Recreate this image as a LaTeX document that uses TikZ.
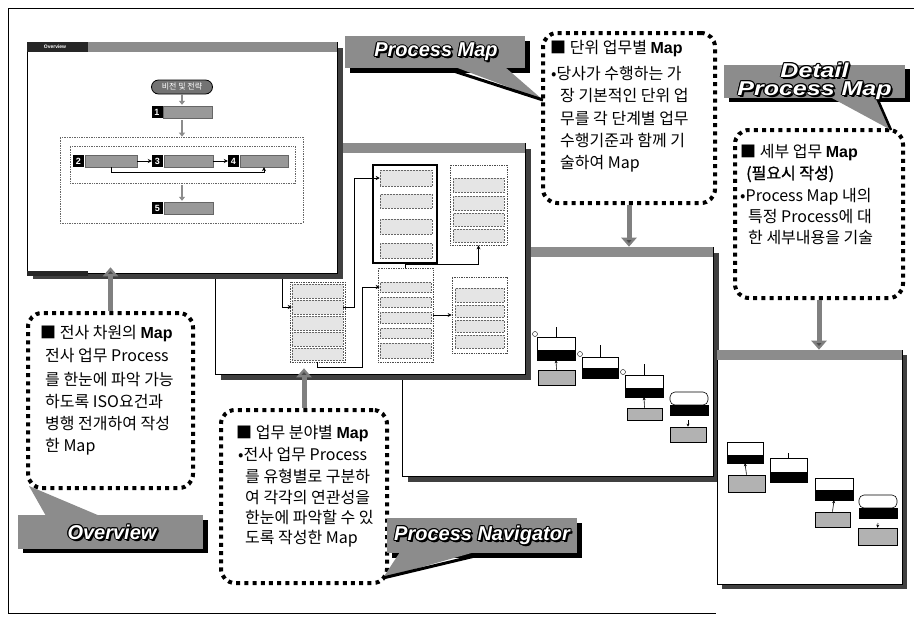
\documentclass[tikz,border=0pt]{standalone}
\usepackage{fontspec}
\setmainfont{Liberation Sans}
\newfontfamily\kr{Noto Sans CJK KR}
\newfontfamily\krb[FakeBold=1.2]{Noto Sans CJK KR}
\usetikzlibrary{arrows.meta}
\colorlet{lgray}{black!45}
\colorlet{dgray}{black!75}
\newcommand\olabel[3]{%
  \foreach \dx/\dy in {-1.1/0,1.1/0,0/-1.1,0/1.1,-.8/-.8,.8/.8,-.8/.8,.8/-.8,2/-2,1.5/-1.5}{%
    \node[lbltxt,text=black,xshift=\dx pt,yshift=\dy pt] at #1 {#3};}%
  \node[lbltxt,text=white] (#2) at #1 {#3};}
\begin{document}
\begin{tikzpicture}[x=1pt,y=-1pt,
 win/.style={draw=black,line width=.6pt,fill=white,inner sep=0},
 sh/.style={fill=dgray},
 bar/.style={fill=lgray},
 callout/.style={draw=black,line width=4pt,dash pattern=on 4pt off 4.2pt,rounded corners=14pt,fill=white,inner sep=0},
 kt/.style={anchor=base west,inner sep=0,font=\kr\fontsize{16}{20}\selectfont},
 lbl/.style={fill=lgray,inner sep=0},
 lbltxt/.style={inner sep=0,align=center,font=\bfseries\itshape\fontsize{20}{20}\selectfont},
 bigarrow/.style={draw=black!50,line width=5pt,-{Triangle[width=15pt,length=9pt,fill=black!70]}},
 grp/.style={draw=black!70,densely dotted,line width=.7pt,inner sep=0},
 grpA/.style={draw=black,line width=1.2pt,inner sep=0},
 nb/.style={draw=black!60,densely dotted,fill=black!10,line width=.5pt,inner sep=0},
 conn/.style={draw=black,line width=1pt,-{Stealth[length=4pt,width=4pt]}},
 numsq/.style={fill=black,text=white,inner sep=0,minimum width=11pt,minimum height=12pt,font=\bfseries\fontsize{9}{9}\selectfont},
 gb/.style={fill=black!40,draw=black!60,inner sep=0,minimum height=12pt},
 dbox/.style={draw=black!60,densely dotted,line width=.7pt,inner sep=0},
 sarr/.style={draw=black!45,line width=2pt,-{Triangle[width=6pt,length=4pt]}},
 pt/.style={draw=black,fill=white,line width=.6pt,inner sep=0},
 pbk/.style={draw=black,fill=black,inner sep=0},
 pg/.style={draw=black,fill=black!30,line width=.6pt,inner sep=0},
 thin/.style={draw=black,line width=.6pt,-{Stealth[length=3pt,width=3pt]}}
]
\useasboundingbox (0,0) rectangle (914,622);
\fill[white] (0,0) rectangle (914,622);
% outer frame
\draw[line width=.8pt] (914,8) -- (8,8) -- (8,613) -- (716,613);

% ---------- Process Map window ----------
\fill[sh] (408,253) rectangle (719,482);
\node[win,minimum width=311pt,minimum height=229pt] (pmw) at (557.5,361.5) {};
\fill[bar] (402,247) rectangle (713,257);
% process map content
\node[pt,minimum width=38pt,minimum height=13pt] (p1t) at (556,343.5) {};
\node[pbk,minimum width=38pt,minimum height=10pt] (p1b) at (556,355) {};
\node[pg,minimum width=37pt,minimum height=15pt] (g1) at (556.5,377.5) {};
\coordinate (p1in) at (556,327);
\draw[line width=.6pt] (p1in) -- (p1t.north);
\draw[thin] (g1.north) -- (p1b.south);
\node[pt,minimum width=36pt,minimum height=11pt] (p2t) at (600,362.5) {};
\node[pbk,minimum width=36pt,minimum height=10pt] (p2b) at (600,373) {};
\coordinate (p2in) at (600,345);
\draw[line width=.6pt] (p2in) -- (p2t.north);
\node[pt,minimum width=38pt,minimum height=13pt] (p3t) at (644,381.5) {};
\node[pbk,minimum width=38pt,minimum height=9pt] (p3b) at (644,392.5) {};
\node[pg,minimum width=35pt,minimum height=12pt] (g3) at (644.5,414) {};
\coordinate (p3in) at (644,364);
\draw[line width=.6pt] (p3in) -- (p3t.north);
\draw[thin] (g3.north) -- (p3b.south);
\node[pt,rounded corners=5pt,minimum width=38pt,minimum height=13pt] (p4t) at (689,398.5) {};
\node[pbk,minimum width=38pt,minimum height=10pt] (p4b) at (689,410) {};
\node[pg,minimum width=36pt,minimum height=15pt] (g4) at (688,434.5) {};
\coordinate (p4g) at (688,420);
\draw[thin] (p4g) -- (g4.north);
\node[draw,circle,inner sep=0,minimum size=5pt,line width=.4pt] (m1) at (535,334) {};
\node[draw,circle,inner sep=0,minimum size=5pt,line width=.4pt] (m2) at (580,354) {};
\node[draw,circle,inner sep=0,minimum size=5pt,line width=.4pt] (m3) at (623,372) {};

% ---------- Detail window ----------
\fill[sh] (722,355) rectangle (907,589);
\node[win,minimum width=185pt,minimum height=234pt] (dw) at (809.5,467) {};
\fill[bar] (717,350) rectangle (902,360);
\node[pt,minimum width=36pt,minimum height=13pt] (d1t) at (745,448.5) {};
\node[pbk,minimum width=36pt,minimum height=8pt] (d1b) at (745,459) {};
\node[pg,minimum width=37pt,minimum height=17pt] (dg1) at (746.5,483.5) {};
\draw[thin] (dg1.north) -- (d1b.south);
\node[pt,minimum width=37pt,minimum height=14pt] (d2t) at (788.5,465) {};
\node[pbk,minimum width=37pt,minimum height=10pt] (d2b) at (788.5,477) {};
\coordinate (d2in) at (788.5,453);
\draw[line width=.6pt] (d2in) -- (d2t.north);
\node[pt,minimum width=38pt,minimum height=12pt] (d3t) at (834,484) {};
\node[pbk,minimum width=38pt,minimum height=10pt] (d3b) at (834,495) {};
\node[pg,minimum width=35pt,minimum height=15pt] (dg3) at (832.5,519.5) {};
\draw[thin] (dg3.north) -- (d3b.south);
\node[pt,rounded corners=5pt,minimum width=38pt,minimum height=13pt] (d4t) at (878,501.5) {};
\node[pbk,minimum width=38pt,minimum height=10pt] (d4b) at (878,513) {};
\node[pg,minimum width=39pt,minimum height=17pt] (dg4) at (877.5,536.5) {};
\coordinate (d4g) at (878,523);
\draw[thin] (d4g) -- (dg4.north);

% ---------- Navigator window ----------
\fill[sh] (221,149) rectangle (531,380);
\node[win,minimum width=310pt,minimum height=231pt] (nw) at (370,258.5) {};
\fill[bar] (215,143) rectangle (525,153);
\node[grpA,minimum width=64pt,minimum height=98pt] (A) at (405,214) {};
\node[nb,minimum width=52pt,minimum height=16pt] (A1) at (406,178) {};
\node[nb,minimum width=52pt,minimum height=14pt] (A2) at (406,201) {};
\node[nb,minimum width=52pt,minimum height=15pt] (A3) at (406,226.5) {};
\node[nb,minimum width=52pt,minimum height=15pt] (A4) at (406,250.5) {};
\node[grp,minimum width=57pt,minimum height=80pt] (B) at (478.5,205) {};
\node[nb,minimum width=51pt,minimum height=14pt] (B1) at (478.5,185) {};
\node[nb,minimum width=51pt,minimum height=14pt] (B2) at (478.5,203) {};
\node[nb,minimum width=51pt,minimum height=13pt] (B3) at (478.5,219.5) {};
\node[nb,minimum width=51pt,minimum height=13pt] (B4) at (478.5,235.5) {};
\node[grp,minimum width=55pt,minimum height=80pt] (C) at (317.5,322) {};
\node[nb,minimum width=51pt,minimum height=14pt] (C1) at (317.5,291) {};
\node[nb,minimum width=51pt,minimum height=14pt] (C2) at (317.5,307) {};
\node[nb,minimum width=51pt,minimum height=14pt] (C3) at (317.5,323) {};
\node[nb,minimum width=51pt,minimum height=14pt] (C4) at (317.5,339) {};
\node[nb,minimum width=51pt,minimum height=12pt] (C5) at (317.5,354) {};
\node[grp,minimum width=55pt,minimum height=94pt] (D) at (405.5,315) {};
\node[nb,minimum width=51pt,minimum height=10pt] (D1) at (405.5,287) {};
\node[nb,minimum width=51pt,minimum height=10pt] (D2) at (405.5,302) {};
\node[nb,minimum width=51pt,minimum height=11pt] (D3) at (405.5,317.5) {};
\node[nb,minimum width=51pt,minimum height=10pt] (D4) at (405.5,333) {};
\node[nb,minimum width=51pt,minimum height=15pt] (D5) at (405.5,350.5) {};
\node[grp,minimum width=55pt,minimum height=76pt] (E) at (479.5,315) {};
\node[nb,minimum width=49pt,minimum height=14pt] (E1) at (479.5,295) {};
\node[nb,minimum width=49pt,minimum height=12pt] (E2) at (479.5,311) {};
\node[nb,minimum width=49pt,minimum height=12pt] (E3) at (479.5,326) {};
\node[nb,minimum width=49pt,minimum height=13pt] (E4) at (479.5,341.5) {};
\coordinate (c1s) at (282,279);
\draw[conn] (c1s) |- (C2.west);
\draw[conn] (C2.east) -- ++(11,0) |- (A1.west);
\draw[conn] (C.south) -- ++(0,5) -- ++(45,0) |- (D1.west);
\draw[conn] (D.north) -- ++(0,-3) -| (B.south);
\draw[conn] (D.east) -- (E.west);

% ---------- Overview window ----------
\fill[sh] (33,48) rectangle (343,279);
\node[win,minimum width=310pt,minimum height=231pt] (ow) at (182,157.5) {};
\fill[bar] (27,42) rectangle (337,52);
\fill[black!85] (27,42) rectangle (88,52);
\fill[black!85] (27,271) rectangle (88,276);
\node[inner sep=0,text=white,font=\bfseries\fontsize{5}{5}\selectfont] (owt) at (55,47) {Overview};
\node[draw=black,line width=.8pt,fill=black!55,rounded corners=7pt,minimum width=61pt,minimum height=14pt,inner sep=0,text=white,font=\kr\fontsize{8}{8}\selectfont] (vis) at (182,87) {비전 및 전략};
\node[numsq] (n1) at (157,112) {1};
\node[gb,minimum width=49pt] (b1) at (187.5,112) {};
\node[dbox,minimum width=243pt,minimum height=86pt] (outer) at (181.5,180) {};
\node[dbox,minimum width=225pt,minimum height=37pt] (inner) at (182.5,164.5) {};
\node[numsq] (n2) at (78.5,161) {2};
\node[gb,minimum width=52pt] (b2) at (111,161) {};
\node[numsq] (n3) at (157.5,161) {3};
\node[gb,minimum width=49pt] (b3) at (188.5,161) {};
\node[numsq] (n4) at (233.5,161) {4};
\node[gb,minimum width=48pt] (b4) at (264,161) {};
\node[numsq] (n5) at (157.5,208) {5};
\node[gb,minimum width=49pt] (b5) at (188.5,208) {};
\draw[sarr] (vis.south) -- ([yshift=1pt]n1.north -| vis.south);
\draw[sarr] ([yshift=-2pt]b1.south -| vis.south) -- (outer.north -| vis.south);
\draw[sarr] ([yshift=-2pt]inner.south -| vis.south) -- ([yshift=1pt]b5.north -| vis.south);
\draw[conn,line width=.8pt] (b2.east) -- (n3.west);
\draw[conn,line width=.8pt] (b3.east) -- (n4.west);
\draw[conn,line width=.8pt] (b2.south) -- ++(0,5) -| (b4.south);

% ---------- callouts ----------
\node[callout,minimum width=172pt,minimum height=170pt] (uc) at (629,118) {};
\node[callout,minimum width=168pt,minimum height=168pt] (dc) at (819,214) {};
\node[callout,minimum width=165pt,minimum height=175pt] (oc) at (110.5,400.5) {};
\node[callout,minimum width=166pt,minimum height=173pt] (nc) at (304,496.5) {};

\node[kt] (u1) at (550,53) {■ 단위 업무별 {\rmfamily\bfseries Map}};
\node[kt] (u2) at (551,79) {•당사가 수행하는 가};
\node[kt] (u3) at (560,101) {장 기본적인 단위 업};
\node[kt] (u4) at (560,124) {무를 각 단계별 업무};
\node[kt] (u5) at (560,146) {수행기준과 함께 기};
\node[kt] (u6) at (560,168) {술하여 Map};

\node[kt] (d1) at (740,157) {■ 세부 업무 {\rmfamily\bfseries Map}};
\node[kt] (d2) at (746,179) {\krb (필요시 작성)};
\node[kt] (d3) at (740,201) {•Process Map 내의};
\node[kt] (d4) at (748,222) {특정 Process에 대};
\node[kt] (d5) at (748,243) {한 세부내용을 기술};

\node[kt] (o1) at (40,338) {■ 전사 차원의 {\rmfamily\bfseries Map}};
\node[kt] (o2) at (45,361) {전사 업무 Process};
\node[kt] (o3) at (45,385) {를 한눈에 파악 가능};
\node[kt] (o4) at (45,407) {하도록 ISO요건과};
\node[kt] (o5) at (45,429) {병행 전개하여 작성};
\node[kt] (o6) at (45,451) {한 Map};

\node[kt] (v1) at (236,438) {■ 업무 분야별 {\rmfamily\bfseries Map}};
\node[kt] (v2) at (238,460) {•전사 업무 Process};
\node[kt] (v3) at (245,482) {를 유형별로 구분하};
\node[kt] (v4) at (245,503) {여 각각의 연관성을};
\node[kt] (v5) at (245,523) {한눈에 파악할 수 있};
\node[kt] (v6) at (245,543) {도록 작성한 Map};

% big arrows
\draw[bigarrow,shorten >=-6pt] (oc.north) -- (oc.north |- ow.south);
\draw[bigarrow,shorten >=-6pt] (nc.north) -- (nc.north |- nw.south);
\draw[bigarrow] (uc.south) -- (uc.south |- pmw.north);
\draw[bigarrow] (dc.south) -- (dc.south |- dw.north);

% ---------- labels ----------
% Process Map
\fill[black] (350,41) rectangle (530,73);
\node[lbl,minimum width=180pt,minimum height=32pt] (pml) at (435,52) {};
\coordinate (pmtip) at (543,100);
\fill[lgray] (455,67) -- (pmtip) -- (505,67) -- cycle;
\draw[line width=3pt] (455,71.5) -- (pmtip);
\olabel{(436,52)}{pmt}{Process Map}
% Detail Process Map
\fill[black] (729,69) rectangle (910,102);
\node[lbl,minimum width=181pt,minimum height=33pt] (dpl) at (814.5,81.5) {};
\coordinate (dptip) at (891,130);
\fill[lgray] (830,97) -- (dptip) -- (877,97) -- cycle;
\draw[line width=2.5pt] (877,98) -- (dptip);
\olabel{(814.5,81)}{dpt}{\scalebox{1.25}[1]{Detail}\\[-2pt]\scalebox{1.25}[1]{Process Map}}
% Overview
\fill[black] (23,520) rectangle (208,553);
\node[lbl,minimum width=185pt,minimum height=34pt] (ovl) at (110.5,532) {};
\coordinate (ovtip) at (29,486);
\fill[lgray] (46,516) -- (ovtip) -- (100,516) -- cycle;
\olabel{(112,532)}{ovt}{Overview}
% Process Navigator
\fill[black] (392,523) rectangle (582,558);
\node[lbl,minimum width=190pt,minimum height=35pt] (pnl) at (482,535.5) {};
\coordinate (pntip) at (383,578);
\fill[lgray] (400,552) -- (pntip) -- (475,552) -- cycle;
\draw[line width=3pt] (475,556) -- (pntip);
\olabel{(482,535.5)}{pnt}{Process Navigator}
\end{tikzpicture}
\end{document}
